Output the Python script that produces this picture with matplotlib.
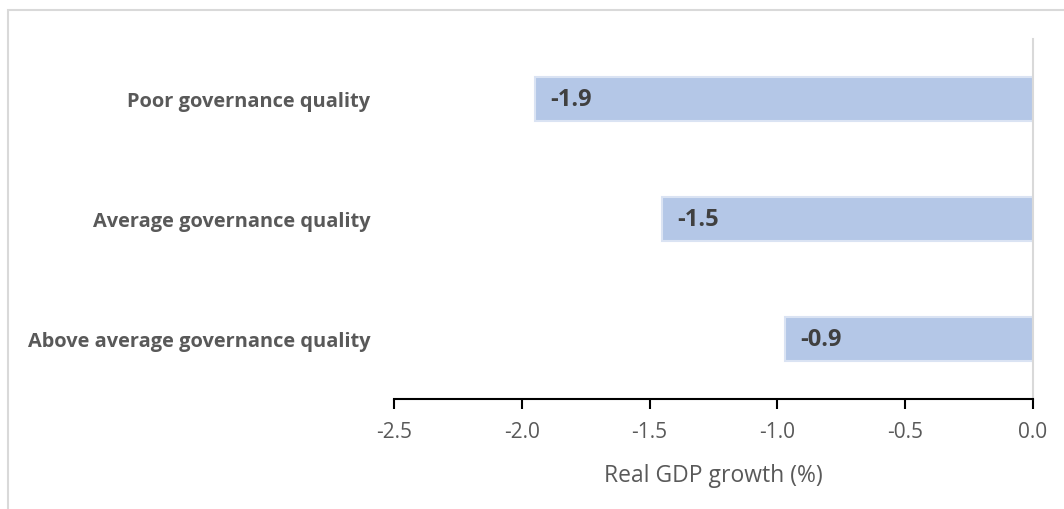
import matplotlib
matplotlib.use('Agg')
import matplotlib.pyplot as plt
from matplotlib.patches import Rectangle

categories = ['Poor governance quality', 'Average governance quality', 'Above average governance quality']
values = [-1.95, -1.45, -0.97]
value_labels = ['-1.9', '-1.5', '-0.9']
x_ticks = [-2.5, -2.0, -1.5, -1.0, -0.5, 0.0]

plt.rcParams['font.family'] = ['Open Sans', 'DejaVu Sans']

fig = plt.figure(figsize=(10.64, 5.10), dpi=100)
ax = fig.add_axes([394 / 1064, 1 - 400 / 510, (1033 - 394) / 1064, 360 / 510])

# outer chart frame
fig.patches.append(Rectangle((8 / 1064, -0.1), 1.2, 1.1 - 11 / 510, transform=fig.transFigure,
                             fill=False, edgecolor='#d9d9d9', linewidth=1.5, clip_on=False))

pos = list(range(len(categories)))
ax.barh(pos, values, height=0.36, color='#b4c7e7', edgecolor='#dae3f3', linewidth=1.5)

for p, v, lab in zip(pos, values, value_labels):
    ax.text(v + 0.06, p, lab, ha='left', va='center', fontsize=17, fontweight='bold', color='#404040')

ax.set_xlim(-2.5, 0.0)
ax.set_ylim(2.5, -0.5)
ax.set_xticks(x_ticks)
ax.set_xticklabels([f'{t:.1f}' for t in x_ticks])
ax.set_yticks(pos)
ax.set_yticklabels(categories, fontsize=14.4, fontweight='bold', color='#595959')

ax.spines['top'].set_visible(False)
ax.spines['left'].set_visible(False)
ax.spines['right'].set_color('#d9d9d9')
ax.spines['right'].set_linewidth(1.5)
ax.spines['bottom'].set_color('black')
ax.spines['bottom'].set_linewidth(1.5)

ax.tick_params(axis='y', length=0, pad=17)
ax.tick_params(axis='x', direction='out', length=7, width=1.5, color='black',
               labelsize=15, labelcolor='#595959', pad=9)
ax.set_xlabel('Real GDP growth (%)', fontsize=16.5, color='#595959', labelpad=15)

fig.savefig('out.png', dpi=100)
